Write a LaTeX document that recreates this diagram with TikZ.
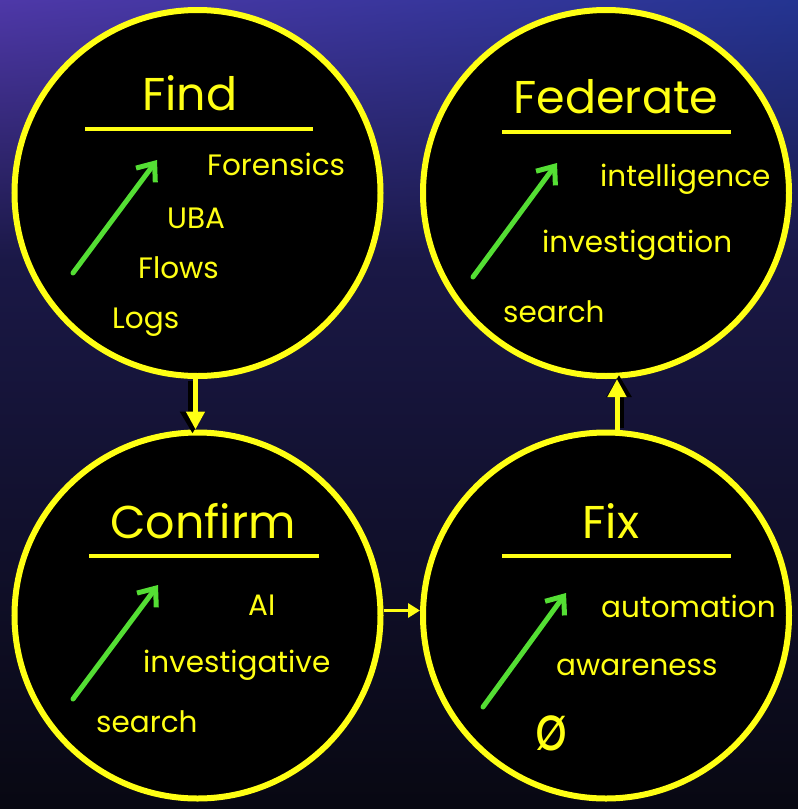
\documentclass[tikz,border=0pt]{standalone}
\usepackage{fontspec}
\setmainfont{Poppins}
\usetikzlibrary{arrows.meta,shadings}
\definecolor{bgUL}{RGB}{78,56,168}
\definecolor{bgUR}{RGB}{36,52,145}
\definecolor{bgMid}{RGB}{26,24,70}
\definecolor{bgBot}{RGB}{8,8,18}
\definecolor{ylw}{RGB}{255,255,20}
\definecolor{grn}{RGB}{84,222,52}
\tikzset{
  circ/.style={circle, draw=ylw, fill=black, line width=6pt, minimum size=366pt, inner sep=0pt},
  ttl/.style={text=ylw, font=\fontsize{46}{52}\selectfont, anchor=base, inner sep=0pt},
  itm/.style={text=ylw, font=\fontsize{29.5}{34}\selectfont, anchor=base west, inner sep=0pt},
  uline/.style={draw=ylw, line width=4pt},
  greenarrow/.style={draw=grn, line width=5pt, line cap=round, -{Straight Barb[length=15pt,width=24pt,line width=5pt]}},
  flowarrow/.style={draw=ylw, line width=5pt, -{Triangle[length=18pt,width=18pt]}},
  flowshadow/.style={draw=black, line width=9pt, -{Triangle[length=22pt,width=24pt]}},
  thinarrow/.style={draw=ylw, line width=3pt, -{Triangle[length=12pt,width=14pt]}}
}
\begin{document}
\begin{tikzpicture}[x=1pt,y=-1pt]
\useasboundingbox (0,0) rectangle (798,809);
\shade[upper left=bgUL, upper right=bgUR, lower left=bgMid, lower right=bgMid] (0,0) rectangle (798,261);
\shade[top color=bgMid, bottom color=bgBot] (0,260) rectangle (798,809);

% circles
\node[circ] (find) at (197.5,193) {};
\node[circ] (fed) at (606,193) {};
\node[circ] (conf) at (197.5,615.5) {};
\node[circ] (fix) at (606,615.5) {};

% connectors between circles
\coordinate (dA) at ([xshift=-2]find.south);
\coordinate (dB) at ([xshift=-2]conf.north);
\draw[flowshadow] ([xshift=-3,yshift=-2]dA) -- ([xshift=-3,yshift=-4]dB);
\draw[flowarrow] (dA) -- (dB);
\coordinate (uA) at ([xshift=11]fix.north);
\coordinate (uB) at ([xshift=11]fed.south);
\draw[flowshadow] ([xshift=2,yshift=2]uA) -- ([xshift=2,yshift=4]uB);
\draw[flowarrow] (uA) -- (uB);
\draw[thinarrow] ([yshift=5]conf.east) -- ([yshift=5]fix.west);

% Find
\node[ttl] (t1) at (190,110) {Find};
\draw[uline] (85,129) -- (313,129);
\node[itm] (f1) at (207,175) {Forensics};
\node[itm] (f2) at (167,228) {UBA};
\node[itm] (f3) at (138,278) {Flows};
\node[itm] (f4) at (112,328) {Logs};
\coordinate (g1a) at (73,273);
\coordinate (g1b) at (157,160);
\draw[greenarrow] (g1a) -- (g1b);

% Federate
\node[ttl] (t2) at (616,113) {Federate};
\draw[uline] (502,132) -- (731,132);
\node[itm] (e1) at (600,186) {intelligence};
\node[itm] (e2) at (542,252) {investigation};
\node[itm] (e3) at (503,322) {search};
\coordinate (g2a) at (473,277);
\coordinate (g2b) at (557,163);
\draw[greenarrow] (g2a) -- (g2b);

% Confirm
\node[ttl] (t3) at (203,538) {Confirm};
\draw[uline] (89,556) -- (319,556);
\node[itm] (c1) at (248,615) {AI};
\node[itm] (c2) at (143,672) {investigative};
\node[itm] (c3) at (96,732) {search};
\coordinate (g3a) at (73,699);
\coordinate (g3b) at (158,585);
\draw[greenarrow] (g3a) -- (g3b);

% Fix
\node[ttl] (t4) at (611,538) {Fix};
\draw[uline] (502,556) -- (731,556);
\node[itm] (x1) at (601,617) {automation};
\node[itm] (x2) at (556,675) {awareness};
\node[text=ylw, font=\fontsize{50}{60}\selectfont, anchor=base, inner sep=0pt, yscale=1.25] (x3) at (551,750) {ø};
\coordinate (g4a) at (483,707);
\coordinate (g4b) at (566,593);
\draw[greenarrow] (g4a) -- (g4b);
\end{tikzpicture}
\end{document}
